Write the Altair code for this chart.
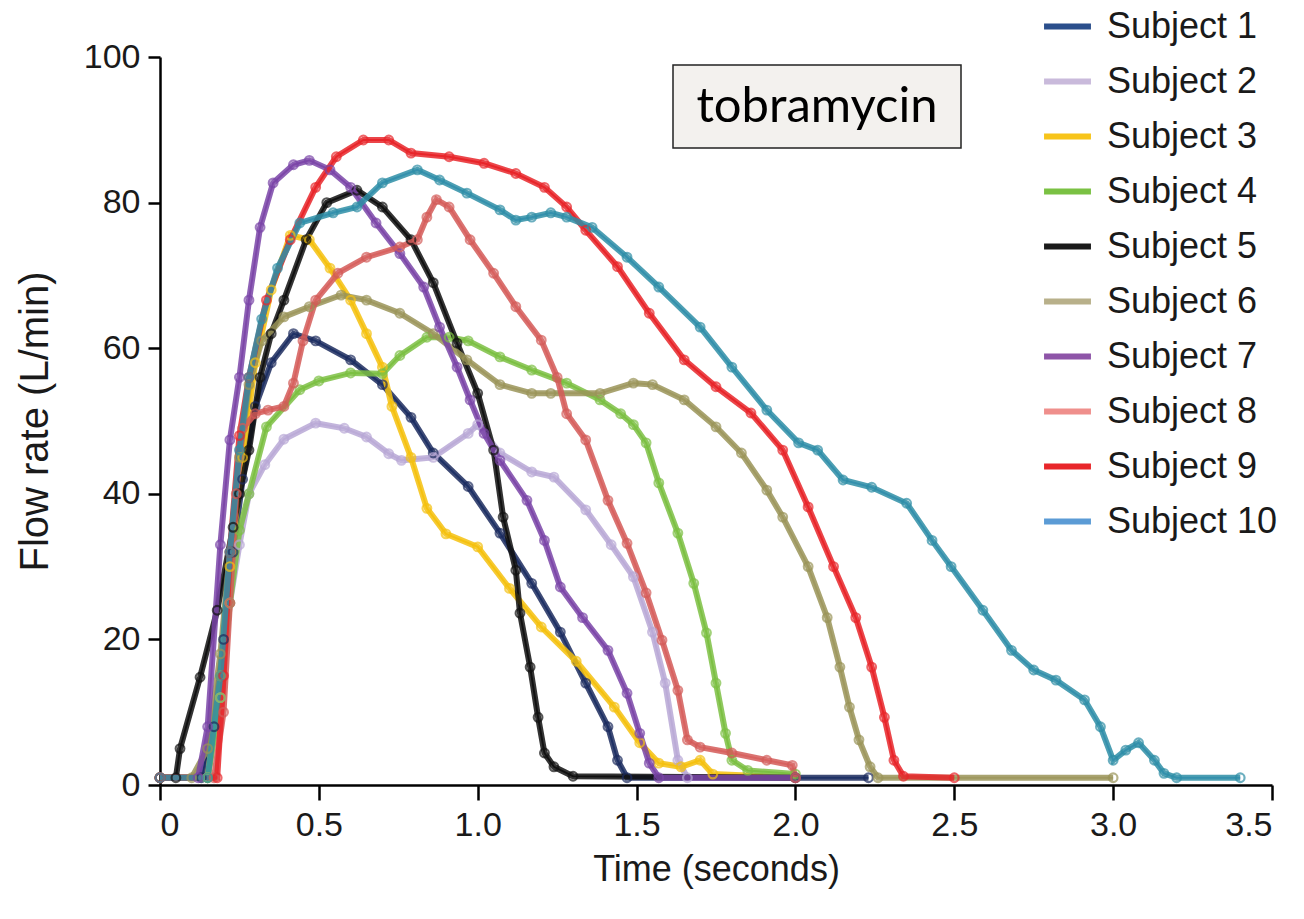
import altair as alt
import pandas as pd

subjects = [f"Subject {i}" for i in range(1, 11)]
legend_colors = ["#2b4f8c", "#c9badb", "#f7c41a", "#7ac143", "#1a1a1a",
                 "#b8b08a", "#8e55a8", "#ef8f8c", "#e8262a", "#5b9bd5"]
marker_colors = ["#1c2b5e", "#b8a8d6", "#f5c10f", "#7cc043", "#111111",
                 "#9a9458", "#7a45a8", "#d35b58", "#e8262a", "#2e8ea6"]

s1_t = [0, 0.13, 0.17, 0.2, 0.23, 0.26, 0.3, 0.35, 0.42, 0.49, 0.6, 0.7, 0.79, 0.86, 0.97, 1.07, 1.17, 1.26, 1.34, 1.41, 1.44, 1.47, 2.23]
s1_f = [1, 1, 8, 20, 32, 42, 52, 58, 62, 61, 58.4, 55, 50.5, 45.6, 41, 34.6, 27.7, 21, 14, 8, 3.4, 1, 1]

s2_t = [0, 0.15, 0.19, 0.22, 0.25, 0.28, 0.33, 0.39, 0.49, 0.58, 0.65, 0.72, 0.76, 0.86, 0.97, 1.0, 1.07, 1.17, 1.24, 1.34, 1.42, 1.49, 1.55, 1.59, 1.63, 1.66, 2.0]
s2_f = [1, 1, 12, 25, 33, 40, 44, 47.5, 49.7, 49, 47.8, 45.5, 44.6, 45, 48.3, 49.5, 45.6, 43, 42.3, 37.8, 33, 28.6, 21, 14, 3.4, 1, 1]

s3_t = [0, 0.15, 0.19, 0.22, 0.26, 0.3, 0.35, 0.41, 0.47, 0.535, 0.6, 0.65, 0.7, 0.73, 0.79, 0.84, 0.9, 1.0, 1.1, 1.2, 1.31, 1.43, 1.51, 1.57, 1.64, 1.7, 1.74, 2.0]
s3_f = [1, 1, 15, 30, 45, 58, 68, 75.5, 74.9, 71, 66.6, 62, 57.4, 52, 45, 38, 34.5, 32.7, 27, 21.7, 17, 10.7, 5.8, 3, 2.5, 3.4, 1.5, 1]

s4_t = [0, 0.15, 0.19, 0.22, 0.25, 0.28, 0.335, 0.44, 0.5, 0.6, 0.7, 0.755, 0.84, 0.91, 0.97, 1.07, 1.17, 1.28, 1.385, 1.45, 1.49, 1.53, 1.57, 1.63, 1.68, 1.72, 1.75, 1.78, 1.8, 1.85, 2.0]
s4_f = [1, 1, 12, 25, 35, 40, 49.2, 54.3, 55.5, 56.6, 56.5, 59, 61.5, 61.5, 61, 58.8, 57, 55.2, 52.9, 51, 49.5, 47, 41.5, 34.6, 27.7, 20.9, 14, 7.1, 3.4, 2, 1.5]

s5_t = [0, 0.05, 0.063, 0.126, 0.18, 0.23, 0.25, 0.28, 0.315, 0.35, 0.39, 0.46, 0.525, 0.62, 0.7, 0.79, 0.86, 0.935, 1.0, 1.05, 1.08, 1.12, 1.133, 1.165, 1.19, 1.21, 1.24, 1.3, 2.0]
s5_f = [1, 1, 5, 14.8, 24, 35.4, 40, 46, 56, 62, 66.6, 74.9, 80, 81.7, 79.4, 74.9, 69, 60.7, 53.8, 46, 36.8, 29.5, 23.6, 16.2, 9.3, 4.4, 2.5, 1.2, 1]

s6_t = [0, 0.1, 0.15, 0.19, 0.22, 0.25, 0.28, 0.32, 0.39, 0.47, 0.57, 0.65, 0.755, 0.86, 0.966, 1.07, 1.17, 1.23, 1.385, 1.49, 1.55, 1.65, 1.75, 1.83, 1.91, 1.96, 2.04, 2.1, 2.14, 2.17, 2.2, 2.235, 2.26, 3.0]
s6_f = [1, 1, 5, 18, 32, 45, 55, 61, 64.3, 65.7, 67.3, 66.6, 64.8, 62, 58.4, 55, 53.8, 53.8, 53.8, 55.2, 55, 52.9, 49.2, 45.6, 40.5, 36.8, 30, 23, 16.2, 10.7, 6.2, 2.5, 1, 1]

s7_t = [0, 0.12, 0.15, 0.19, 0.22, 0.25, 0.28, 0.315, 0.356, 0.42, 0.47, 0.535, 0.6, 0.68, 0.755, 0.83, 0.88, 0.935, 0.976, 1.02, 1.07, 1.155, 1.21, 1.26, 1.33, 1.41, 1.47, 1.51, 1.54, 1.57, 2.0]
s7_f = [1, 1, 8, 33, 47.4, 56, 66.6, 76.6, 82.7, 85.2, 85.8, 84.5, 82.1, 77.2, 73, 68.4, 62.9, 57.4, 52.9, 48.3, 44.6, 39.1, 33.6, 27.2, 23, 18.5, 12.6, 7.1, 3, 1, 1]

s8_t = [0, 0.17, 0.2, 0.22, 0.24, 0.26, 0.3, 0.34, 0.39, 0.42, 0.45, 0.49, 0.56, 0.65, 0.755, 0.81, 0.84, 0.87, 0.91, 0.976, 1.05, 1.12, 1.2, 1.25, 1.28, 1.34, 1.41, 1.47, 1.53, 1.58, 1.63, 1.66, 1.7, 1.8, 1.91, 1.99, 2.0]
s8_f = [1, 1, 10, 25, 40, 49, 51, 51.5, 52, 55.2, 61, 66.6, 70.3, 72.5, 73.9, 74.9, 78, 80.4, 79.4, 74.9, 70.3, 65.7, 61.1, 56, 51, 47.4, 39.1, 33.2, 26.4, 19.9, 13, 6.2, 5.2, 4.4, 3.4, 2.7, 1]

s9_t = [0, 0.18, 0.2, 0.22, 0.25, 0.28, 0.335, 0.41, 0.49, 0.555, 0.64, 0.72, 0.79, 0.91, 1.02, 1.12, 1.21, 1.28, 1.34, 1.44, 1.54, 1.65, 1.75, 1.86, 1.96, 2.04, 2.12, 2.19, 2.24, 2.28, 2.31, 2.34, 2.5]
s9_f = [1, 1, 15, 32, 48, 56, 66.6, 74.9, 82.1, 86.3, 88.6, 88.6, 86.8, 86.3, 85.4, 84, 82.1, 79.4, 76.2, 71.2, 64.8, 58.4, 54.7, 51.1, 46, 38.2, 30, 23, 16.2, 9.3, 3.4, 1.2, 1]

s10_t = [0, 0.15, 0.19, 0.22, 0.25, 0.28, 0.32, 0.37, 0.44, 0.545, 0.62, 0.7, 0.81, 0.88, 0.966, 1.07, 1.12, 1.17, 1.23, 1.28, 1.36, 1.47, 1.57, 1.7, 1.8, 1.91, 2.01, 2.07, 2.15, 2.24, 2.35, 2.43, 2.49, 2.59, 2.68, 2.75, 2.82, 2.91, 2.96, 3.0, 3.04, 3.08, 3.13, 3.16, 3.2, 3.4]
s10_f = [1, 1, 15, 32, 46, 56, 64, 71, 77.2, 78.6, 79.4, 82.7, 84.5, 83.1, 81.3, 79, 77.6, 78, 78.6, 78, 76.6, 72.5, 68.4, 62.9, 57.4, 51.5, 47, 46, 41.9, 40.9, 38.7, 33.6, 30, 24, 18.5, 15.8, 14.4, 11.7, 8, 3.4, 4.8, 5.8, 3.4, 1.6, 1, 1]

x_ticks = [0, 0.5, 1.0, 1.5, 2.0, 2.5, 3.0, 3.5]
y_ticks = [0, 20, 40, 60, 80, 100]
label_text = "tobramycin"

series_t = [s1_t, s2_t, s3_t, s4_t, s5_t, s6_t, s7_t, s8_t, s9_t, s10_t]
series_f = [s1_f, s2_f, s3_f, s4_f, s5_f, s6_f, s7_f, s8_f, s9_f, s10_f]

rows = []
for i, (ts, fs) in enumerate(zip(series_t, series_f)):
    for t, f in zip(ts, fs):
        rows.append({"subject": subjects[i], "t": t, "f": f,
                     "mcol": marker_colors[i], "order": i})
df = pd.DataFrame(rows)

FONT = "Liberation Sans"

x_enc = alt.X("t:Q", scale=alt.Scale(domain=[0, 3.5], nice=False),
              axis=alt.Axis(values=x_ticks, title="Time (seconds)",
                            labelExpr="datum.value == 0 ? '0' : format(datum.value, '.1f')",
                            tickSize=15, labelPadding=8, titlePadding=10))
y_enc = alt.Y("f:Q", scale=alt.Scale(domain=[0, 100], nice=False),
              axis=alt.Axis(values=y_ticks, title="Flow rate (L/min)",
                            tickSize=12, labelPadding=8,
                            titleX=-125, titleBaseline="middle", titleAngle=-90))

base = alt.Chart(df)

legend_lines = base.mark_line(strokeWidth=2).encode(
    x=x_enc, y=y_enc,
    color=alt.Color("subject:N",
                    scale=alt.Scale(domain=subjects, range=legend_colors),
                    legend=alt.Legend(title=None, orient="none", legendX=881, legendY=-57,
                                      symbolType="stroke", symbolSize=2200,
                                      symbolStrokeWidth=6, labelFontSize=36,
                                      labelFont=FONT, labelColor="#1a1a1a",
                                      rowPadding=10, labelOffset=13, padding=0,
                                      labelLimit=400)),
)

band = base.mark_line(strokeWidth=6, opacity=0.85).encode(
    x="t:Q", y="f:Q",
    color=alt.Color("mcol:N", scale=None),
    detail="subject:N",
)

points = base.mark_point(filled=False, size=75, strokeWidth=2.2).encode(
    x="t:Q", y="f:Q",
    color=alt.Color("mcol:N", scale=None),
)

box_df = pd.DataFrame({"label": [label_text]})
box = alt.Chart(box_df).mark_rect(fill="#f3f1ee", stroke="#222222", strokeWidth=1.5).encode(
    x=alt.value(513), x2=alt.value(801), y=alt.value(8), y2=alt.value(91))
box_text = alt.Chart(box_df).mark_text(font="Lato", fontSize=49, color="#000000",
                                       align="center", baseline="middle").encode(
    x=alt.value(657), y=alt.value(50), text="label:N")

chart = alt.layer(legend_lines, band, points, box, box_text).resolve_scale(
    color="independent"
).properties(
    width=1112, height=728,
    autosize=alt.AutoSizeParams(type="none"),
    padding={"left": 160, "top": 57, "right": 32, "bottom": 134},
).configure_view(stroke=None).configure_axis(
    domainColor="#000000", domainWidth=2.5, tickColor="#000000", tickWidth=2.5,
    labelFont=FONT, labelFontSize=34, labelColor="#1a1a1a",
    titleFont=FONT, titleFontSize=36, titleFontWeight="normal", titleColor="#1a1a1a",
    grid=False,
).configure_axisY(titleFontSize=40)

chart.save("out.html", embed_options={"renderer": "svg", "actions": False})
